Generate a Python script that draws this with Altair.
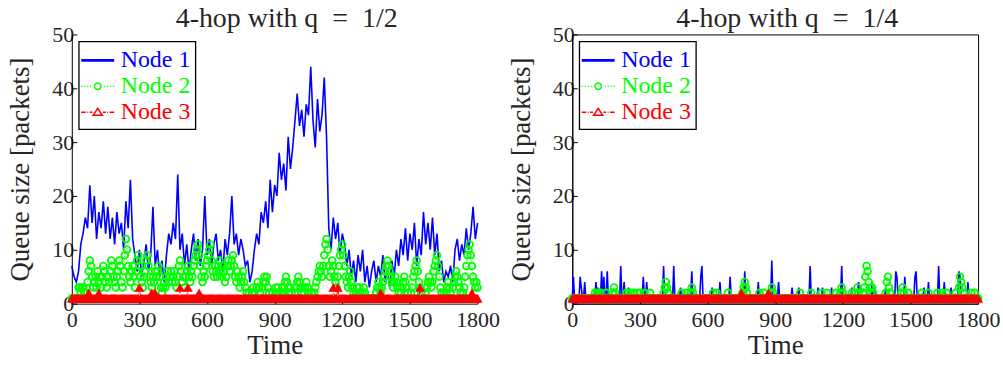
import altair as alt
import pandas as pd

# ---------------- data ----------------
T10 = list(range(0, 1801, 10))   # sample times for Node 1, q = 1/2
T5 = list(range(0, 1801, 5))     # sample times for the other series

N1_Q2 = [
    7, 5, 4, 6, 11, 13, 16, 14, 22, 15,
    20, 12, 17, 14, 19, 13, 18, 12, 16, 11,
    17, 13, 15, 10, 19, 14, 23, 12, 9, 6,
    10, 5, 8, 11, 6, 9, 18, 7, 10, 5,
    8, 4, 9, 13, 11, 15, 12, 24, 10, 13,
    7, 11, 6, 10, 13, 8, 12, 7, 10, 20,
    9, 12, 7, 11, 13, 8, 10, 6, 12, 9,
    13, 20, 11, 13, 9, 12, 10, 7, 8, 4,
    6, 10, 13, 11, 17, 15, 19, 14, 23, 17,
    22, 20, 28, 23, 26, 21, 31, 25, 29, 34,
    39, 33, 36, 31, 37, 35, 44, 34, 29, 38,
    32, 35, 42, 31, 14, 10, 16, 12, 15, 9,
    13, 11, 7, 10, 5, 8, 4, 9, 6, 10,
    4, 7, 3, 6, 8, 4, 7, 5, 9, 4,
    6, 3, 8, 5, 10, 7, 12, 9, 14, 8,
    13, 10, 15, 7, 12, 9, 17, 11, 15, 10,
    16, 9, 13, 6, 8, 4, 6, 5, 7, 4,
    10, 12, 8, 11, 9, 14, 10, 13, 18, 12,
    15,
]

N2_Q2 = [
    1, 1, 1, 1, 1, 1, 3, 3, 2, 3, 3, 2, 1, 2, 4, 6, 8, 7, 5, 3,
    4, 5, 3, 6, 4, 5, 3, 5, 7, 6, 4, 3, 5, 4, 6, 8, 7, 5, 4, 3,
    5, 6, 8, 7, 4, 3, 6, 9, 12, 10, 7, 5, 4, 6, 7, 5, 3, 6, 8, 9,
    7, 5, 4, 3, 5, 6, 8, 9, 7, 5, 4, 3, 5, 4, 6, 5, 6, 7, 5, 3,
    2, 3, 4, 3, 5, 6, 4, 5, 6, 4, 5, 6, 4, 3, 5, 7, 8, 6, 4, 5,
    3, 5, 6, 7, 5, 4, 6, 5, 7, 8, 9, 10, 11, 9, 7, 5, 4, 6, 5, 7,
    8, 9, 10, 11, 8, 6, 5, 7, 6, 5, 7, 8, 6, 5, 7, 6, 4, 5, 7, 8,
    6, 7, 8, 9, 7, 5, 4, 6, 5, 3, 4, 5, 6, 4, 3, 2, 1, 2, 1, 1,
    2, 3, 2, 1, 3, 4, 3, 2, 1, 3, 4, 5, 4, 5, 3, 2, 1, 1, 2, 1,
    1, 3, 2, 3, 2, 1, 2, 3, 2, 4, 5, 4, 3, 2, 3, 2, 1, 1, 2, 3,
    4, 5, 4, 3, 2, 3, 2, 3, 4, 3, 2, 1, 1, 2, 1, 2, 3, 4, 5, 6,
    7, 6, 5, 7, 9, 11, 12, 10, 7, 5, 6, 8, 7, 5, 4, 3, 5, 7, 9, 10,
    11, 9, 7, 5, 4, 3, 5, 6, 4, 3, 2, 1, 2, 3, 2, 3, 2, 1, 2, 3,
    2, 1, 1, 1, 1, 1, 1, 1, 1, 1, 2, 3, 4, 3, 2, 3, 4, 5, 6, 7,
    8, 7, 6, 5, 4, 3, 4, 5, 4, 3, 2, 1, 2, 3, 4, 5, 4, 3, 2, 1,
    1, 2, 3, 5, 6, 7, 8, 6, 4, 3, 2, 1, 1, 1, 2, 3, 4, 5, 4, 3,
    4, 6, 7, 8, 9, 7, 5, 3, 2, 1, 2, 1, 2, 3, 4, 3, 2, 1, 3, 4,
    5, 6, 5, 4, 3, 2, 1, 2, 3, 5, 7, 9, 10, 11, 9, 7, 5, 4, 3, 4, 3,
]

# queues that sit at one packet, with the excursions
BASE = 1
N3_Q2_T = [75, 120, 300, 355, 370, 480, 515, 565, 1160, 1180, 1370, 1545, 1775]
N3_Q2_V = [2, 2, 3, 2, 2, 3, 3, 2, 3, 3, 2, 3, 2]

N1_Q4_T = [5, 35, 40, 55, 105, 115, 130, 140, 155, 215, 230, 250, 315, 330, 405, 450,
           480, 530, 570, 575, 620, 655, 700, 765, 825, 885, 915, 975, 1005, 1055,
           1090, 1110, 1150, 1195, 1240, 1270, 1330, 1340, 1390, 1435, 1440, 1475,
           1520, 1525, 1560, 1580, 1625, 1650, 1680, 1715, 1720, 1755]
N1_Q4_V = [5, 5, 3, 4, 4, 3, 6, 5, 6, 7, 4, 3, 5, 4, 7, 7,
           3, 6, 5, 7, 3, 4, 5, 6, 4, 8, 4, 3, 3, 7,
           3, 3, 3, 7, 3, 4, 4, 3, 3, 6, 5, 5,
           5, 6, 3, 4, 7, 4, 3, 6, 5, 4]

N2_Q4_T = [100, 110, 120, 125, 150, 180, 185, 190, 240, 250, 260, 275, 290, 300, 320,
           345, 405, 410, 415, 420, 425, 485, 505, 525, 530, 535, 625, 640, 690, 755,
           760, 765, 770, 775, 830, 850, 880, 885, 890, 1010, 1060, 1105, 1130, 1170,
           1190, 1195, 1200, 1240, 1255, 1265, 1270, 1290, 1295, 1300, 1305, 1310,
           1315, 1320, 1325, 1330, 1335, 1390, 1395, 1400, 1405, 1410, 1460, 1465,
           1470, 1490, 1550, 1580, 1620, 1640, 1660, 1700, 1715, 1720, 1725, 1730,
           1735, 1770, 1785]
N2_Q4_V = [2, 2, 2, 2, 2, 2, 3, 2, 2, 2, 2, 2, 2, 2, 2,
           2, 2, 3, 4, 3, 2, 2, 2, 2, 3, 2, 2, 2, 2, 2,
           3, 4, 3, 2, 2, 2, 2, 3, 2, 2, 2, 2, 2, 2,
           2, 3, 2, 2, 2, 3, 2, 2, 3, 5, 7, 6,
           4, 3, 2, 3, 2, 2, 4, 5, 3, 2, 2, 3,
           2, 2, 2, 2, 2, 2, 2, 2, 3, 5, 4, 3,
           2, 2, 2]

N3_Q4_T = [750, 870]
N3_Q4_V = [2, 2]

NODES = ["Node 1", "Node 2", "Node 3"]
TITLES = ["4-hop with q\u2002=\u20021/2", "4-hop with q\u2002=\u20021/4"]
X_TICKS = [0, 300, 600, 900, 1200, 1500, 1800]
Y_TICKS = [0, 10, 20, 30, 40, 50]


def with_spikes(times, values):
    out = {t: BASE for t in T5}
    for t, v in zip(times, values):
        out[t] = v
    return [out[t] for t in T5]


# ---------------- styling ----------------
FONT = "Liberation Serif"
INK = "#262626"
BLUE, GREEN, RED = "#0000ff", "#00ff00", "#ff0000"
W, H = 407, 270

# legend symbols: line segment + marker, in symbol units (1 unit = 13 px)
P_N1 = "M-1.27,-0.05H1.27M-1.27,0.05H1.27"
P_N2 = ("M-1.27,0h0.08M-1.04,0h0.08M-0.81,0h0.08M-0.58,0h0.08"
        "M0.25,0A0.25,0.25 0 1,1 -0.25,0A0.25,0.25 0 1,1 0.25,0"
        "M0.5,0h0.08M0.73,0h0.08M0.96,0h0.08M1.19,0h0.08")
P_N3 = ("M-1.27,0h0.35M-0.8,0h0.07M-0.62,0h0.22"
        "M0,-0.3L-0.35,0.24L0.35,0.24Z"
        "M0.4,0h0.22M0.73,0h0.07M0.92,0h0.35")

X_AXIS = alt.Axis(values=X_TICKS, title="Time", grid=False, labelFlush=False,
                  labelOverlap=False, format="d", tickSize={"expr": "-5"},
                  labelPadding=11, titlePadding=2)
Y_AXIS = alt.Axis(values=Y_TICKS, title="Queue size [packets]", grid=False,
                  labelOverlap=False, format="d", tickSize={"expr": "-5"},
                  labelPadding=3, titlePadding=17)

LEGEND = alt.Legend(
    title=None, orient="top-left", offset=7, padding=5,
    fillColor="white", strokeColor="black",
    labelFont=FONT, labelFontSize=24,
    labelColor={"expr": "datum.label === 'Node 1' ? '#0000ff' : (datum.label === 'Node 2' ? '#00ff00' : '#ff0000')"},
    symbolSize=676, symbolStrokeWidth=1.5,
    labelOffset=9, rowPadding=0,
)


def panel(n1_t, n1, n2, n3, title, box):
    enc = dict(x=alt.X("t:Q", scale=alt.Scale(domain=[0, 1800], nice=False), axis=X_AXIS),
               y=alt.Y("q:Q", scale=alt.Scale(domain=[0, 50], nice=False), axis=Y_AXIS))
    d1 = pd.DataFrame({"t": n1_t, "q": n1})
    d2 = pd.DataFrame({"t": T5, "q": n2})
    d3 = pd.DataFrame({"t": T5, "q": n3})
    l1 = alt.Chart(d1).mark_line(color=BLUE, strokeWidth=1.6).encode(**enc)
    l2 = alt.Chart(d2).mark_line(color=GREEN, strokeWidth=1, strokeDash=[1, 2]).encode(**enc)
    p2 = alt.Chart(d2).mark_point(shape="circle", filled=False, color=GREEN,
                                  size=46, strokeWidth=1.8, opacity=1).encode(**enc)
    l3 = alt.Chart(d3).mark_line(color=RED, strokeWidth=1, strokeDash=[5, 2, 1, 2]).encode(**enc)
    p3 = alt.Chart(d3).mark_point(shape="triangle-up", filled=True, color=RED,
                                  size=100, strokeWidth=1.5, opacity=1).encode(**enc)
    leg = alt.Chart(pd.DataFrame({"node": NODES})).mark_point(
        filled=False, strokeWidth=1.5, opacity=1
    ).encode(
        color=alt.Color("node:N", scale=alt.Scale(domain=NODES, range=[BLUE, GREEN, RED]), legend=LEGEND),
        shape=alt.Shape("node:N", scale=alt.Scale(domain=NODES, range=[P_N1, P_N2, P_N3]), legend=LEGEND),
    ).transform_filter("datum.node === 'none'")
    props = dict(
        width=W, height=H,
        title=alt.TitleParams(title, font=FONT, fontSize=28, fontWeight="normal",
                              color=INK, offset=-10, frame="group", dx=12),
    )
    if box:
        props["view"] = alt.ViewBackground(stroke="black", strokeWidth=1)
    return alt.layer(l1, l2, p2, l3, p3, leg).properties(**props)


left = panel(T10, N1_Q2, N2_Q2, with_spikes(N3_Q2_T, N3_Q2_V), TITLES[0], False)
right = panel(T5, with_spikes(N1_Q4_T, N1_Q4_V), with_spikes(N2_Q4_T, N2_Q4_V),
              with_spikes(N3_Q4_T, N3_Q4_V), TITLES[1], True)

chart = alt.hconcat(left, right, spacing=7).resolve_scale(
    color="independent", shape="independent"
).resolve_legend(color="independent", shape="independent").properties(
    padding={"left": 7, "top": 4, "right": 2, "bottom": 0},
    background="white",
).configure_view(stroke=None).configure_axis(
    labelFont=FONT, labelFontSize=22, labelColor=INK,
    titleFont=FONT, titleFontSize=27, titleFontWeight="normal", titleColor=INK,
    domainColor="black", domainWidth=1, tickColor="black", tickWidth=1,
).configure_legend(strokeWidth=1.3)

chart.save("out.html", embed_options={"renderer": "svg", "actions": False})
